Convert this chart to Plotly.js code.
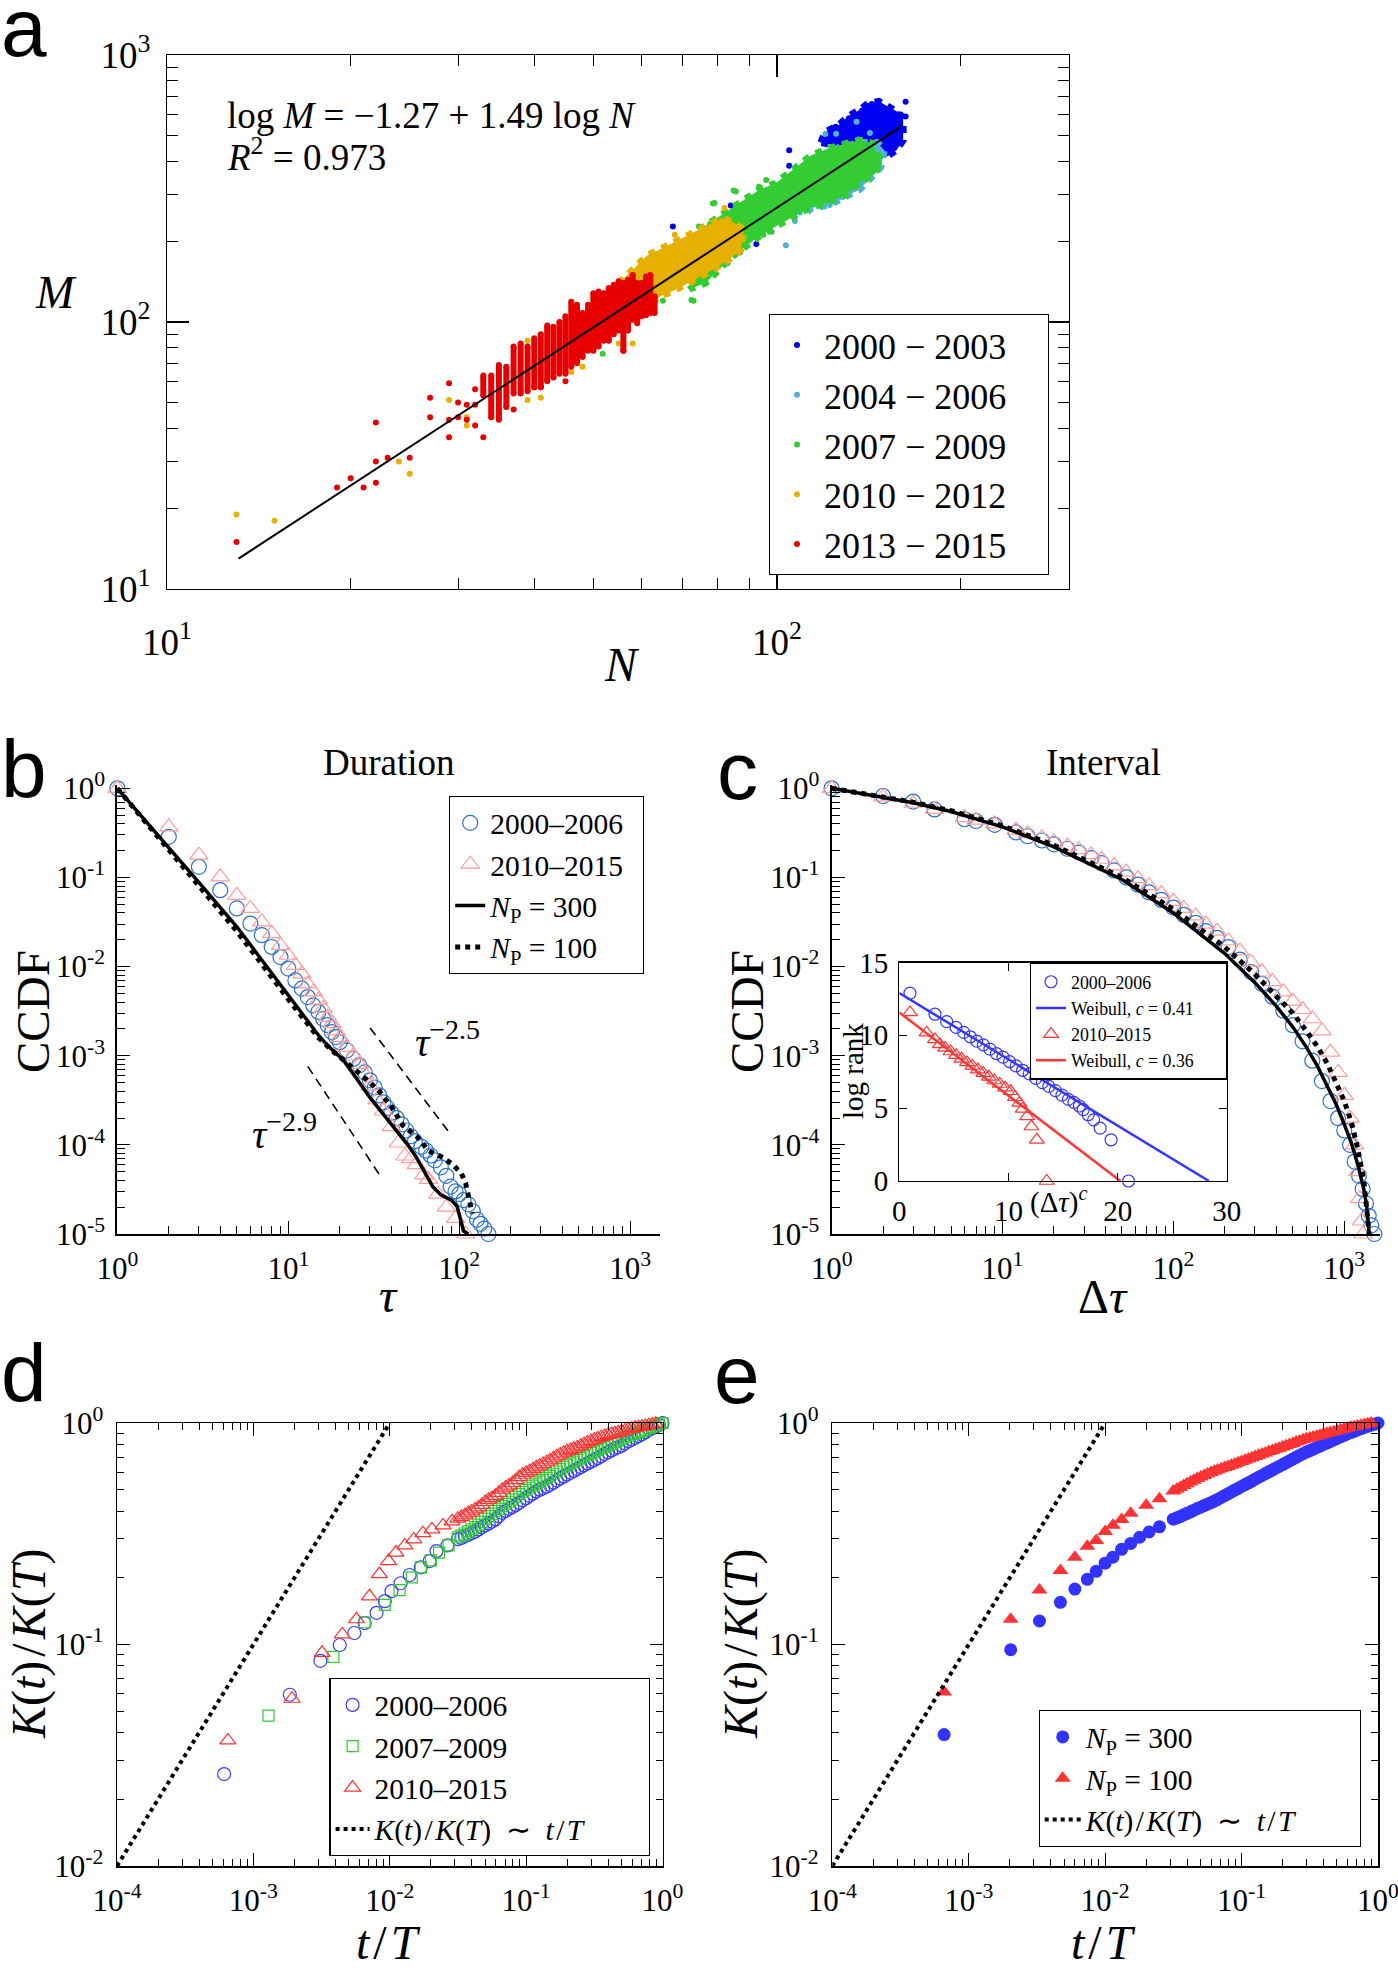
<!DOCTYPE html>
<html><head><meta charset="utf-8">
<script src="https://cdn.plot.ly/plotly-3.0.1.min.js"></script>
<style>html,body{margin:0;padding:0;background:#fff;}#chart{width:1398px;height:1971px;}</style>
</head><body><div id="chart"></div>
<script>
// ================= DATA =================
// ---- Panel a : M vs N, five periods ----
const blueHullN = [118,120,126,131,137,141,147,153,158,161,161,157,151,143,135,126];
const blueHullM = [470,515,545,590,625,660,670,640,610,580,480,440,415,425,445,455];
const blueN = [162.5,143,162.5,151.6,104.7,104.7,84,67.5,92.5,98,137.9,131.2,124.8,121,158.5,155,147,160];
const blueM = [668,655,588,430,440,385,273,228,196,256,620,580,539,480,600,470,640,520];

const cyanHullN = [118,128,138,146,150,148,141.5,136.2,129.6,121.7,114,111.4,114,116];
const cyanHullM = [420,455,470,470,440,380,340,312,295,274,267,255,303,380];
const cyanN = [103.4,107,109,87,83,84.5,122,127.7,136,108.9,129,120,125,135,142,145,146,141];
const cyanM = [194,239,257,182,166,184,274,294,320,258,300,506,507,562,510,416,440,380];

const greenHullN = [74.5,80.3,86.6,93.4,99.5,105.9,114,121.7,129.6,136.2,143.3,147.8,145.1,136.2,129.6,120.2,112.8,105.9,99.5,93.4,88.8,84.5,80.3,76.4,72.6,70.8];
const greenHullM = [221,248,274,312,331,371,422,447,467,480,467,404,361,331,299,278,267,248,228,209,191,176,157,140,134,144];
const greenN = [79,85.6,96,72.4,65,51.8,146.9,95,73,93.4,98,89,84.9,78.5,74.5,77.7,72.6,76.4];
const greenM = [279,308,340,121,120,76,393,212,120,321,218,271,311,278,228,233,134,140];

const orangeHullN = [53,56.5,61.3,64,68.2,72.6,77.3,81.3,84.5,88.3,87.2,82.4,77.3,72.6,68.2,64,60.1,56.5];
const orangeHullM = [128,148,178,186,200,212,228,245,238,221,186,168,154,142,132,124,111,99];
const orangeN = [13,15,24,25,29,31,31,34,34,36,39,39,41,46,48,56,58,50,55,68,82];
const orangeM = [19,18,30,27,51,44,41,53,44,48,85,51,52,65,68,82,83,123,83,212,267];

const redColN  = [33,34,35,36,37,38,39,40,41,42,43,44,45,46,47,48,49,50,51,52,53,54,55,56,57,58,59,60,61,62,63];
const redColLo = [53,44,43,48,54,54,55,57,57,60,62,64,64,68,70,74,78,78,81,85,85,90,93,78,93,102,99,105,106,108,108];
const redColHi = [63,63,69,68,81,83,81,87,90,97,96,100,105,119,116,108,116,128,130,128,134,138,142,140,144,150,140,140,148,150,125];
const redN = [13,19,20,21,22,22,22,23,25,27,27,29,29,29,30,30,31,31,32,32,32,33,35,37,40,41,45,56];
const redM = [15,24,26,24,42,30,25,31,31,52,44,59,43,37,50,44,49,43,56,49,41,37,45,47,57,57,60,78];

const fitN = [13.1,160];
const fitM = [13.0,540];

// ---- Panel b : duration CCDF ----
const durBlueT = [1,2,3,4,5,6,7,8,9,10,11,12,13,14,15,16,17,18,19,20,22,24,26,28,30,32,34,36,38,40,43,46,49,52,55,60,64,68,72,78,84,89,95,100,106,113,120,127,133,140,148];
const durBlueC = [1,0.286,0.1315,0.072,0.0449,0.0304,0.0225,0.0166,0.0128,0.0095,0.0070,0.00566,0.00455,0.00367,0.0031,0.0026,0.0022,0.00184,0.00162,0.00142,0.00115,9.2e-4,7.8e-4,6.5e-4,5.3e-4,4.4e-4,3.6e-4,3.0e-4,2.6e-4,2.3e-4,2.0e-4,1.7e-4,1.45e-4,1.25e-4,1.1e-4,9.5e-5,8.6e-5,7.6e-5,6.7e-5,5.6e-5,4.5e-5,3.4e-5,3.0e-5,2.8e-5,2.4e-5,2.15e-5,1.8e-5,1.45e-5,1.3e-5,1.15e-5,1.0e-5];
const durPinkT = [1,2,3,4,5,6,7,8,9,10,11,12,13,14,15,16,17,18,19,20,22,24,26,28,30,33,36,40,44,48,52,56,62,66,75,84,95,109];
const durPinkC = [1,0.37,0.178,0.1016,0.063,0.0449,0.0317,0.0235,0.0173,0.0134,0.0103,0.0083,0.0064,0.0052,0.0042,0.0034,0.0027,0.0023,0.0019,0.0016,0.00125,1.0e-3,8.0e-4,6.2e-4,4.6e-4,3.2e-4,2.4e-4,1.6e-4,1.05e-4,7.5e-5,7.0e-5,6.0e-5,4.6e-5,4.1e-5,2.8e-5,2.0e-5,1.5e-5,1.0e-5];
const durNp300T = [1,2,3,5,10,15,17,21,25,30,36,43,50,56,62,66,70,78,90,97,103,106,113];
const durNp300C = [1,0.22,0.088,0.028,0.0048,0.0017,0.0013,8.9e-4,5.6e-4,3.4e-4,2.2e-4,1.45e-4,1.0e-4,7.3e-5,5.2e-5,4.1e-5,3.4e-5,2.75e-5,2.4e-5,2.05e-5,1.25e-5,1.08e-5,1.0e-5];
const durNp100T = [1,2,3,5,10,15,18,21,25,27.5,34,40,47,57,66,78,91,103,109,116,119];
const durNp100C = [1,0.2,0.08,0.025,0.0043,0.0016,0.00115,9.0e-4,6.8e-4,5.8e-4,4.0e-4,2.7e-4,1.64e-4,1.22e-4,8.6e-5,7.4e-5,6.1e-5,4.75e-5,3.7e-5,2.26e-5,1.7e-5];
const slope25T = [30.1,89.8], slope25C = [2.05e-3,1.28e-4];
const slope29T = [13.0,35.0], slope29C = [7.6e-4,4.3e-5];

// ---- Panel c : interval CCDF ----
const intBlueT = [1,2,3,4,6,7,9,12,14,17,20,24,28,33,38,45,53,62,72,85,100,115,135,155,180,210,245,285,330,380,440,500,570,650,740,830,920,1000,1080,1150,1220,1280,1340,1390,1440,1500];
const intBlueC = [1,0.82,0.71,0.58,0.45,0.43,0.39,0.32,0.29,0.26,0.235,0.21,0.19,0.165,0.145,0.12,0.10,0.083,0.068,0.056,0.046,0.038,0.031,0.025,0.021,0.0165,0.012,0.0087,0.0064,0.0046,0.0032,0.0022,0.00145,0.00088,0.00052,0.00031,0.0002,0.000145,0.0001,6.5e-5,4.5e-5,3.2e-5,2.2e-5,1.6e-5,1.25e-5,1.0e-5];
const intPinkT = [1,2,3,4,6,7,9,12,14,17,20,24,28,33,38,45,53,62,72,85,100,115,135,155,180,210,245,285,330,380,440,500,570,650,740,830,920,1000,1080,1150,1200,1230,1260,1290];
const intPinkC = [1,0.80,0.68,0.58,0.47,0.44,0.40,0.34,0.31,0.28,0.25,0.225,0.205,0.18,0.16,0.135,0.115,0.097,0.081,0.066,0.054,0.045,0.037,0.030,0.025,0.0195,0.0150,0.0112,0.0087,0.0068,0.0052,0.0041,0.0033,0.0026,0.0019,0.0011,0.00065,0.00036,0.0002,0.0001,5e-5,2.5e-5,1.4e-5,1.0e-5];
const intModelT = [1,2,3,5,10,20,50,100,200,300,400,500,600,700,800,900,1000,1100,1200,1300,1350,1390,1400];
const intNp300C = [1,0.8,0.69,0.55,0.37,0.22,0.095,0.040,0.0140,0.0066,0.0036,0.0021,0.00125,7.5e-4,4.5e-4,2.8e-4,1.7e-4,1.05e-4,6e-5,3.2e-5,2.1e-5,1.3e-5,1e-5];
const intNp100C = [1,0.81,0.70,0.56,0.38,0.23,0.10,0.044,0.0165,0.0082,0.0047,0.0030,0.0019,0.00125,8e-4,5e-4,3.1e-4,1.8e-4,9e-5,4e-5,2.2e-5,1.3e-5,1e-5];

// ---- Panel c inset : log rank vs (Δτ)^c ----
const insBlueX = [0.98,3.27,4.34,5.2,5.9,6.5,7.1,7.7,8.3,8.9,9.5,10.1,10.7,11.3,11.9,12.5,13.1,13.7,14.3,14.9,15.5,16.0,16.5,16.85,17.3,17.8,18.4,19.4,21.0];
const insBlueY = [12.9,11.45,10.94,10.55,10.2,9.9,9.6,9.35,9.05,8.75,8.5,8.2,7.9,7.6,7.35,7.05,6.75,6.5,6.2,5.9,5.6,5.4,5.15,4.9,4.55,4.2,3.63,2.83,0];
const insRedX = [0.98,2.5,3.27,3.72,4.2,4.7,5.2,5.7,6.2,6.7,7.2,7.7,8.2,8.7,9.2,9.7,10.2,10.6,11.0,11.3,11.7,12.1,12.6,13.5];
const insRedY = [11.57,10.18,9.72,9.38,9.14,8.89,8.64,8.39,8.14,7.9,7.65,7.4,7.15,6.9,6.66,6.41,6.16,5.75,5.36,4.95,4.43,3.74,2.83,0];
const wbBlueX = [0,28.36], wbBlueY = [12.9,0];
const wbRedX = [0,20.25], wbRedY = [11.57,0];

// ---- Panels d, e : K(t)/K(T) vs t/T ----
const bandX = [0.0316,0.0335,0.0355,0.0376,0.0398,0.0422,0.0447,0.0473,0.0501,0.0531,0.0562,0.0596,0.0631,0.0668,0.0708,0.0750,0.0794,0.0841,0.0891,0.0944,0.1,0.1059,0.1122,0.1189,0.1259,0.1334,0.1413,0.1496,0.1585,0.1679,0.1778,0.1884,0.1995,0.2113,0.2239,0.2371,0.2512,0.2661,0.2818,0.2985,0.3162,0.3350,0.3548,0.3758,0.3981,0.4217,0.4467,0.4732,0.5012,0.5309,0.5623,0.5957,0.6310,0.6683,0.7079,0.7499,0.7943,0.8414,0.8913,0.9441,1];
const dBlueX = [6.1e-4,1.85e-3,3.1e-3,4.3e-3,5.5e-3,6.55e-3,8.0e-3,9.2e-3,0.0103,0.012,0.014,0.0169,0.0196,0.022,0.0265];
const dBlueY = [0.026,0.0593,0.0844,0.0995,0.1127,0.125,0.139,0.157,0.174,0.189,0.206,0.223,0.238,0.264,0.28];
const dBlueBandY = [0.299,0.303,0.308,0.313,0.318,0.323,0.331,0.338,0.345,0.352,0.359,0.367,0.380,0.393,0.401,0.410,0.418,0.427,0.436,0.448,0.458,0.469,0.480,0.491,0.500,0.507,0.516,0.526,0.538,0.550,0.562,0.574,0.585,0.596,0.608,0.620,0.632,0.645,0.657,0.669,0.681,0.694,0.708,0.724,0.738,0.752,0.765,0.777,0.790,0.810,0.828,0.842,0.857,0.873,0.889,0.909,0.932,0.946,0.961,0.979,1.0];
const dGreenX = [1.29e-3,3.86e-3,6.55e-3,9.2e-3,0.0118,0.0145,0.0169,0.02,0.023,0.027];
const dGreenY = [0.0477,0.088,0.126,0.151,0.176,0.201,0.223,0.24,0.26,0.28];
const dGreenBandY = [0.305,0.311,0.317,0.324,0.331,0.339,0.348,0.358,0.370,0.380,0.390,0.401,0.411,0.421,0.431,0.441,0.452,0.464,0.477,0.488,0.499,0.510,0.522,0.533,0.544,0.554,0.565,0.577,0.590,0.604,0.619,0.633,0.645,0.657,0.669,0.681,0.694,0.708,0.720,0.731,0.742,0.755,0.768,0.782,0.795,0.807,0.820,0.832,0.845,0.862,0.876,0.888,0.898,0.908,0.920,0.934,0.950,0.962,0.975,0.987,1.0];
const dRedX = [6.5e-4,1.92e-3,3.19e-3,4.49e-3,5.7e-3,7.1e-3,8.4e-3,9.8e-3,0.0111,0.0129,0.015,0.0175,0.0204,0.0246,0.0286];
const dRedY = [0.0369,0.0569,0.0917,0.111,0.130,0.165,0.208,0.238,0.26,0.28,0.298,0.318,0.331,0.345,0.36];
const dRedBandY = [0.370,0.376,0.383,0.391,0.399,0.407,0.416,0.427,0.440,0.450,0.459,0.469,0.484,0.500,0.511,0.522,0.535,0.552,0.570,0.584,0.595,0.606,0.619,0.631,0.642,0.653,0.665,0.678,0.692,0.707,0.721,0.734,0.745,0.755,0.765,0.776,0.790,0.805,0.817,0.829,0.840,0.852,0.863,0.873,0.883,0.891,0.898,0.906,0.915,0.925,0.935,0.944,0.951,0.957,0.963,0.970,0.978,0.986,0.993,1.003,1.03];
const eBlueX = [6.6e-4,2.03e-3,3.3e-3,4.7e-3,6.0e-3,7.4e-3,8.6e-3,0.01,0.0114,0.0132,0.0154,0.0179,0.021,0.025];
const eBlueY = [0.0392,0.0947,0.1277,0.155,0.178,0.197,0.214,0.233,0.248,0.269,0.286,0.305,0.322,0.34];
const eBlueBandY = [0.368,0.373,0.378,0.385,0.391,0.397,0.404,0.411,0.417,0.424,0.430,0.437,0.444,0.452,0.461,0.470,0.479,0.488,0.498,0.507,0.517,0.527,0.537,0.547,0.558,0.569,0.580,0.591,0.602,0.613,0.625,0.637,0.649,0.661,0.674,0.687,0.700,0.714,0.727,0.739,0.750,0.762,0.775,0.787,0.800,0.812,0.825,0.838,0.852,0.866,0.879,0.892,0.905,0.917,0.930,0.942,0.955,0.966,0.977,0.988,1.0];
const eRedX = [6.6e-4,2.03e-3,3.3e-3,4.7e-3,6.0e-3,7.4e-3,8.6e-3,0.01,0.0114,0.0132,0.0154,0.02,0.025];
const eRedY = [0.0611,0.130,0.176,0.216,0.248,0.278,0.295,0.324,0.345,0.367,0.391,0.425,0.455];
const eRedBandY = [0.493,0.502,0.512,0.522,0.532,0.542,0.551,0.561,0.570,0.579,0.589,0.598,0.606,0.613,0.621,0.629,0.637,0.645,0.653,0.662,0.670,0.679,0.687,0.697,0.706,0.715,0.724,0.733,0.743,0.752,0.761,0.770,0.779,0.789,0.799,0.809,0.820,0.830,0.840,0.848,0.856,0.864,0.872,0.880,0.889,0.898,0.906,0.914,0.923,0.932,0.940,0.949,0.956,0.963,0.970,0.977,0.985,0.992,1.000,1.010,1.02];
const refX = [1e-4,0.01], refY = [0.01,1];

// ================= BUILD =================
const W = 1398, H = 1971;
const X = p => p / W, Y = p => 1 - p / H;
const SERIF = '"Liberation Serif", "Times New Roman", Times, serif';
const SANS = '"Liberation Sans", Arial, Helvetica, sans-serif';
const HS = '\u200a';
const NB = '\u00a0';
const pad = n => NB.repeat(n);
const traces = [];

// panel a
const cA = {b:'#0000f0', c:'#4fb3d6', g:'#33cc33', o:'#e6b000', r:'#e60000'};
function hull(n, m, color) {
  traces.push({x:n.concat([n[0]]), y:m.concat([m[0]]), xaxis:'x', yaxis:'y', mode:'lines', fill:'toself',
    fillcolor:color, line:{color:color, width:7, dash:'dot'}, showlegend:false, hoverinfo:'skip'});
}
function dots(n, m, color, name) {
  traces.push({x:n, y:m, xaxis:'x', yaxis:'y', mode:'markers', marker:{color:color, size:6},
    name:name, legend:'legend', cliponaxis:false});
}
const yr = (a, b) => a + NB + '−' + NB + b + pad(4);
hull(blueHullN, blueHullM, cA.b);   dots(blueN, blueM, cA.b, yr('2000', '2003'));
hull(cyanHullN, cyanHullM, cA.c);   dots(cyanN, cyanM, cA.c, yr('2004', '2006'));
hull(greenHullN, greenHullM, cA.g); dots(greenN, greenM, cA.g, yr('2007', '2009'));
hull(orangeHullN, orangeHullM, cA.o); dots(orangeN, orangeM, cA.o, yr('2010', '2012'));
const colX = [], colY = [];
redColN.forEach((n, i) => { colX.push(n, n, null); colY.push(redColLo[i], redColHi[i], null); });
traces.push({x:colX, y:colY, xaxis:'x', yaxis:'y', mode:'lines+markers', line:{color:cA.r, width:6},
  marker:{color:cA.r, size:6}, showlegend:false, hoverinfo:'skip'});
dots(redN, redM, cA.r, yr('2013', '2015'));
traces.push({x:fitN, y:fitM, xaxis:'x', yaxis:'y', mode:'lines', line:{color:'#000', width:2}, showlegend:false});

// panel b
const cBlue = '#2a72d0', cPink = '#ff9c9c';
traces.push({x:durBlueT, y:durBlueC, xaxis:'x2', yaxis:'y2', mode:'markers', name:'2000–2006' + pad(2), legend:'legend2',
  marker:{symbol:'circle-open', size:15, color:cBlue, line:{width:1.2}}, cliponaxis:false});
traces.push({x:durPinkT, y:durPinkC, xaxis:'x2', yaxis:'y2', mode:'markers', name:'2010–2015' + pad(2), legend:'legend2',
  marker:{symbol:'triangle-up-open', size:16, color:cPink, line:{width:1.2}}, cliponaxis:false});
traces.push({x:durNp300T, y:durNp300C, xaxis:'x2', yaxis:'y2', mode:'lines', name:'<i>N</i><sub>P</sub> = 300', legend:'legend2',
  line:{color:'#000', width:3.5}});
traces.push({x:durNp100T, y:durNp100C, xaxis:'x2', yaxis:'y2', mode:'lines', name:'<i>N</i><sub>P</sub> = 100', legend:'legend2',
  line:{color:'#000', width:5, dash:'dot'}});
traces.push({x:slope25T, y:slope25C, xaxis:'x2', yaxis:'y2', mode:'lines', showlegend:false, line:{color:'#000', width:1.6, dash:'9px,6px'}});
traces.push({x:slope29T, y:slope29C, xaxis:'x2', yaxis:'y2', mode:'lines', showlegend:false, line:{color:'#000', width:1.6, dash:'9px,6px'}});

// panel c
traces.push({x:intBlueT, y:intBlueC, xaxis:'x3', yaxis:'y3', mode:'markers', showlegend:false,
  marker:{symbol:'circle-open', size:15, color:cBlue, line:{width:1.2}}, cliponaxis:false});
traces.push({x:intPinkT, y:intPinkC, xaxis:'x3', yaxis:'y3', mode:'markers', showlegend:false,
  marker:{symbol:'triangle-up-open', size:16, color:cPink, line:{width:1.2}}, cliponaxis:false});
traces.push({x:intModelT, y:intNp300C, xaxis:'x3', yaxis:'y3', mode:'lines', showlegend:false, line:{color:'#000', width:3.5}});
traces.push({x:intModelT, y:intNp100C, xaxis:'x3', yaxis:'y3', mode:'lines', showlegend:false, line:{color:'#000', width:5, dash:'dot'}});

// inset
const cIB = '#3636ff', cIR = '#ff3636';
traces.push({x:insBlueX, y:insBlueY, xaxis:'x4', yaxis:'y4', mode:'markers', name:'2000–2006', legend:'legend3',
  marker:{symbol:'circle-open', size:12, color:cIB, line:{width:1.2}}, cliponaxis:false});
traces.push({x:wbBlueX, y:wbBlueY, xaxis:'x4', yaxis:'y4', mode:'lines', name:'Weibull, <i>c</i> = 0.41' + pad(6), legend:'legend3',
  line:{color:cIB, width:2.5}});
traces.push({x:insRedX, y:insRedY, xaxis:'x4', yaxis:'y4', mode:'markers', name:'2010–2015', legend:'legend3',
  marker:{symbol:'triangle-up-open', size:13, color:cIR, line:{width:1.2}}, cliponaxis:false});
traces.push({x:wbRedX, y:wbRedY, xaxis:'x4', yaxis:'y4', mode:'lines', name:'Weibull, <i>c</i> = 0.36' + pad(6), legend:'legend3',
  line:{color:cIR, width:2.5}});

// panel d
const cDB = '#3c3cff', cDG = '#2ecc2e', cDR = '#ff3333';
const refName = '<i>K</i>(<i>t</i>)' + HS + '/' + HS + '<i>K</i>(<i>T</i>)' + NB + NB + '∼' + NB + NB + '<i>t</i>' + HS + '/' + HS + '<i>T</i>' + pad(8);
traces.push({x:dBlueX.concat(bandX), y:dBlueY.concat(dBlueBandY), xaxis:'x5', yaxis:'y5', mode:'markers', name:'2000–2006', legend:'legend4',
  marker:{symbol:'circle-open', size:13, color:cDB, line:{width:1.2}}, cliponaxis:false});
traces.push({x:dGreenX.concat(bandX), y:dGreenY.concat(dGreenBandY), xaxis:'x5', yaxis:'y5', mode:'markers', name:'2007–2009', legend:'legend4',
  marker:{symbol:'square-open', size:11, color:cDG, line:{width:1.2}}, cliponaxis:false});
traces.push({x:dRedX.concat(bandX), y:dRedY.concat(dRedBandY), xaxis:'x5', yaxis:'y5', mode:'markers', name:'2010–2015', legend:'legend4',
  marker:{symbol:'triangle-up-open', size:14, color:cDR, line:{width:1.2}}, cliponaxis:false});
traces.push({x:refX, y:refY, xaxis:'x5', yaxis:'y5', mode:'lines', name:refName, legend:'legend4',
  line:{color:'#000', width:4, dash:'dot'}});

// panel e
traces.push({x:eBlueX.concat(bandX), y:eBlueY.concat(eBlueBandY), xaxis:'x6', yaxis:'y6', mode:'markers', name:'<i>N</i><sub>P</sub> = 300', legend:'legend5',
  marker:{symbol:'circle', size:13, color:'#3333ff'}, cliponaxis:false});
traces.push({x:eRedX.concat(bandX), y:eRedY.concat(eRedBandY), xaxis:'x6', yaxis:'y6', mode:'markers', name:'<i>N</i><sub>P</sub> = 100', legend:'legend5',
  marker:{symbol:'triangle-up', size:14, color:'#ff3333'}, cliponaxis:false});
traces.push({x:refX, y:refY, xaxis:'x6', yaxis:'y6', mode:'lines', name:refName, legend:'legend5',
  line:{color:'#000', width:4, dash:'dot'}});

// ---------- axes ----------
function decades(k0, k1) {
  const v = [], t = [];
  for (let k = k0; k <= k1; k++) { v.push(Math.pow(10, k)); t.push('10<sup>' + (k < 0 ? '-' : '') + Math.abs(k) + '</sup>'); }
  return {v, t};
}
function minors(k0, k1) {
  const v = [];
  for (let k = k0; k <= k1; k++) for (let m = 2; m <= 9; m++) v.push(m * Math.pow(10, k));
  return v;
}
function logAxis(px0, px1, rng, k0, k1, anchor, o) {
  const d = decades(k0, k1);
  return {type:'log', domain:[px0, px1], range:rng, anchor:anchor, showline:true, linecolor:'#000', linewidth:o.lw,
    mirror:o.mirror, ticks:'inside', ticklen:o.tl, tickwidth:1.2, tickcolor:'#000', tickmode:'array',
    tickvals:d.v, ticktext:d.t, ticklabelstandoff:o.so, ticklabeloverflow:'allow',
    minor:{tickmode:'array', tickvals:minors(k0 - 1, k1), ticks:'inside', ticklen:o.ml, tickwidth:1, tickcolor:'#000'},
    showgrid:false, zeroline:false, tickfont:{family:SERIF, size:o.fs, color:'#000'}, fixedrange:true};
}
const oA = {lw:1.2, mirror:'ticks', tl:22, ml:11, fs:37};
const oB = {lw:2, mirror:false, tl:13, ml:8, fs:31};
const oD = {lw:1.5, mirror:'ticks', tl:13, ml:7, fs:31};

function linAxis(px0, px1, rng, vals, anchor) {
  return {domain:[px0, px1], range:rng, anchor:anchor, showline:true, linecolor:'#000', linewidth:1.2, mirror:'ticks',
    ticks:'inside', ticklen:8, tickwidth:1.2, tickcolor:'#000', tickmode:'array', tickvals:vals, ticklabelstandoff:4,
    showgrid:false, zeroline:false, tickfont:{family:SERIF, size:29, color:'#000'}, fixedrange:true};
}
function legendBox(px, py, size, extra) {
  return Object.assign({x:X(px), y:Y(py), xanchor:'left', yanchor:'top', bgcolor:'#fff', bordercolor:'#000', borderwidth:1.2,
    font:{family:SERIF, size:size, color:'#000'}, tracegroupgap:0}, extra || {});
}

const layout = {
  width:W, height:H, margin:{l:0, r:0, t:0, b:0}, paper_bgcolor:'#fff', plot_bgcolor:'rgba(0,0,0,0)',
  font:{family:SERIF, color:'#000'}, showlegend:true,
  xaxis: logAxis(X(167), X(1069), [1, 2.4787], 1, 3, 'y', Object.assign({}, oA, {so:20})),
  yaxis: logAxis(Y(589), Y(55), [1, 3], 1, 3, 'x', Object.assign({}, oA, {so:8})),
  xaxis2: logAxis(X(117.3), X(659.7), [0, 3.172], 0, 3, 'y2', Object.assign({}, oB, {so:6})),
  yaxis2: logAxis(Y(1234), Y(784.5), [-5, 0.043], -5, 0, 'x2', Object.assign({}, oB, {so:4})),
  xaxis3: logAxis(X(831.6), X(1380), [0, 3.209], 0, 3, 'y3', Object.assign({}, oB, {so:6})),
  yaxis3: logAxis(Y(1234), Y(784.5), [-5, 0.043], -5, 0, 'x3', Object.assign({}, oB, {so:4})),
  xaxis4: linAxis(X(899.3), X(1226.8), [0, 30], [0,10,20,30], 'y4'),
  yaxis4: linAxis(Y(1181), Y(962.5), [0, 15], [0,5,10,15], 'x4'),
  xaxis5: logAxis(X(117), X(662.5), [-4, 0], -4, 0, 'y5', Object.assign({}, oD, {so:6})),
  yaxis5: logAxis(Y(1866), Y(1423), [-2, 0], -2, 0, 'x5', Object.assign({}, oD, {so:6})),
  xaxis6: logAxis(X(832.3), X(1378), [-4, 0], -4, 0, 'y6', Object.assign({}, oD, {so:6})),
  yaxis6: logAxis(Y(1866), Y(1423), [-2, 0], -2, 0, 'x6', Object.assign({}, oD, {so:6})),
  legend: legendBox(769, 314, 36, {borderwidth:1, itemwidth:44}),
  legend2: legendBox(449, 796, 29.5),
  legend3: legendBox(1029.8, 962.5, 17.8),
  legend4: legendBox(329.4, 1678, 29.5, {itemwidth:34}),
  legend5: legendBox(1038.5, 1710, 29.5, {itemwidth:36}),
  annotations: []
};

function ann(text, px, py, size, o) {
  o = o || {};
  layout.annotations.push(Object.assign({text:text, x:X(px), y:Y(py), xref:'paper', yref:'paper', showarrow:false,
    xanchor:'center', yanchor:'middle', font:{family:o.fam || SERIF, size:size, color:'#000'}}, o.extra || {}));
}
// panel labels
ann('a', 24, 27, 82, {fam:SANS});
ann('b', 24, 768, 82, {fam:SANS});
ann('c', 737, 770, 82, {fam:SANS});
ann('d', 24, 1372, 82, {fam:SANS});
ann('e', 737, 1374, 82, {fam:SANS});
// panel a
ann('log <i>M</i> = −1.27 + 1.49 log <i>N</i>', 225, 138, 37, {extra:{xanchor:'left', yanchor:'bottom'}});
ann('<i>R</i><sup>2</sup> = 0.973', 225, 180, 37, {extra:{xanchor:'left', yanchor:'bottom'}});
ann('<i>M</i>', 56, 292, 46);
ann('<i>N</i>', 622, 664, 48);
// panel b
ann('Duration', 389, 762, 37);
ann('CCDF', 33, 1012, 47, {extra:{textangle:-90}});
ann('<i>τ</i>', 388, 1295, 48);
ann('<i>τ</i><sup>−2.5</sup>', 413, 1067, 40, {extra:{xanchor:'left', yanchor:'bottom'}});
ann('<i>τ</i><sup>−2.9</sup>', 250, 1159, 40, {extra:{xanchor:'left', yanchor:'bottom'}});
// panel c
ann('Interval', 1103, 762, 37);
ann('CCDF', 747, 1012, 47, {extra:{textangle:-90}});
ann('Δ<i>τ</i>', 1103, 1296, 48);
ann('(Δ<i>τ</i>)<sup><i>c</i></sup>', 1058, 1200, 29);
ann('log rank', 853, 1071, 29, {extra:{textangle:-90}});
// panels d, e
const kLabel = '<i>K</i>(<i>t</i>)' + HS + '/' + HS + '<i>K</i>(<i>T</i>)';
const tLabel = '<i>t</i>' + HS + '/' + HS + '<i>T</i>';
ann(kLabel, 29, 1644, 48, {extra:{textangle:-90}});
ann(tLabel, 388, 1942, 48);
ann(kLabel, 741, 1644, 48, {extra:{textangle:-90}});
ann(tLabel, 1103, 1942, 48);

Plotly.newPlot('chart', traces, layout, {staticPlot:true, displayModeBar:false});
</script></body></html>
